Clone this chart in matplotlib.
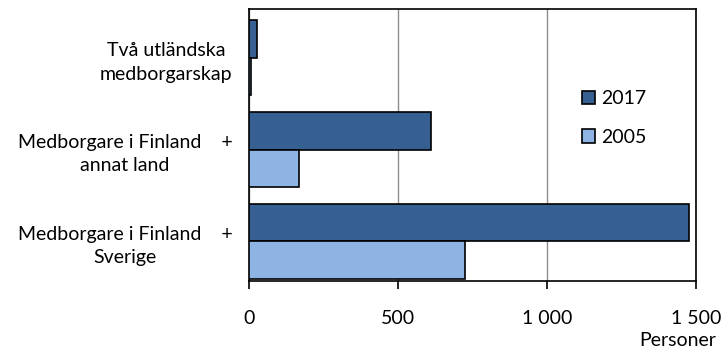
import numpy as np
import matplotlib.pyplot as plt

plt.rcParams['font.family'] = ['Lato', 'DejaVu Sans']

categories = ["Medborgare i Finland    +\nSverige",
              "Medborgare i Finland    +\nannat land",
              "Två utländska\nmedborgarskap"]
v2017 = [1475, 610, 26]
v2005 = [724, 169, 7]

dark = '#366092'
light = '#8DB4E2'

fig = plt.figure(figsize=(7.23, 3.5), dpi=100)
ax = fig.add_axes([249 / 723, 1 - 281 / 350, 447 / 723, 272 / 350])

ind = np.arange(len(categories))
h = 0.41
b1 = ax.barh(ind + h / 2, v2017, h, color=dark, edgecolor='black', linewidth=1.2, label='2017', zorder=3)
b2 = ax.barh(ind - h / 2, v2005, h, color=light, edgecolor='black', linewidth=1.2, label='2005', zorder=3)

ax.set_xlim(0, 1500)
ax.set_ylim(-0.43, 2.53)
ax.set_xticks([0, 500, 1000, 1500])
ax.set_xticklabels(['0', '500', '1 000', '1 500'], fontsize=14)
ax.grid(axis='x', color='#8c8c8c', linewidth=1.0, zorder=0)
ax.set_yticks(ind)
ax.set_yticklabels(categories, fontsize=14, multialignment='center', linespacing=1.45)
ax.tick_params(axis='y', length=0, pad=12)
ax.tick_params(axis='x', length=6, width=1.2, pad=15)
for s in ax.spines.values():
    s.set_linewidth(1.2)

fig.text(716 / 723, 1 - 340 / 350, 'Personer', ha='right', va='center', fontsize=14)

ax.legend(handles=[b1, b2], loc='upper left', bbox_to_anchor=(0.705, 0.765), frameon=False,
          fontsize=14, handlelength=0.7, handleheight=0.7, handletextpad=0.3, labelspacing=1.1)

fig.savefig('out.png', dpi=100)
